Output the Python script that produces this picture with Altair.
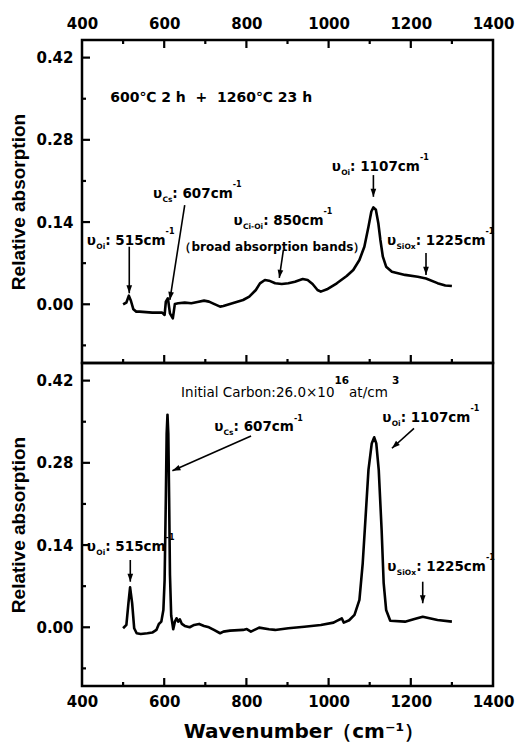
import math
import altair as alt
import pandas as pd

# ---------------- data ----------------
top_wn = [500, 508, 514, 519, 525, 532, 540, 571, 595, 601, 604, 609, 614, 621, 626, 634,
          650, 666, 681, 697, 709, 721, 736, 744, 760, 792, 807, 823, 833, 845, 855, 870,
          886, 902, 918, 937, 949, 961, 973, 981, 996, 1020, 1044, 1060, 1075, 1087, 1097,
          1104, 1109, 1115, 1121, 1126, 1132, 1140, 1154, 1186, 1217, 1237, 1265, 1284, 1300]
top_abs = [0.000, 0.003, 0.0147, 0.006, -0.0086, -0.0125, -0.0125, -0.0142, -0.0142, -0.0182,
           0.0045, 0.0102, -0.0154, -0.0239, 0.0006, 0.0017, 0.0028, 0.0017, 0.0040, 0.0062,
           0.0045, 0.0006, -0.0040, -0.0029, 0.0006, 0.0073, 0.0130, 0.0243, 0.0357, 0.0414,
           0.0402, 0.0357, 0.0346, 0.0357, 0.0385, 0.0431, 0.0414, 0.0346, 0.0243, 0.0215,
           0.0255, 0.0357, 0.0482, 0.0584, 0.0754, 0.098, 0.132, 0.158, 0.165, 0.161, 0.138,
           0.1095, 0.081, 0.064, 0.0555, 0.050, 0.047, 0.044, 0.036, 0.032, 0.031]

bot_wn = [500, 508, 513, 517, 522, 527, 533, 543, 559, 571, 581, 587, 593, 598, 601, 604,
          606, 608, 610, 612, 614, 617, 622, 626, 630, 634, 638, 643, 650, 662, 673, 685,
          697, 709, 721, 736, 744, 760, 792, 801, 811, 831, 855, 870, 902, 941, 981, 1012,
          1020, 1028, 1032, 1037, 1050, 1063, 1075, 1083, 1090, 1097, 1105, 1111, 1116,
          1122, 1129, 1134, 1140, 1150, 1186, 1209, 1229, 1265, 1300]
bot_abs = [-0.0017, 0.004, 0.041, 0.068, 0.041, -0.0017, -0.0102, -0.0114, -0.0102, -0.009,
           -0.0045, 0.0057, 0.0096, 0.0295, 0.08, 0.22, 0.33, 0.362, 0.33, 0.22, 0.09, 0.02,
           -0.0034, 0.0096, 0.0153, 0.0096, 0.0136, 0.0057, 0.0023, 0.0, 0.004, 0.0057,
           0.0023, 0.0, -0.0045, -0.0102, -0.0074, -0.0057, -0.0045, -0.003, -0.0074,
           -0.0006, -0.0034, -0.0045, -0.0017, 0.001, 0.004, 0.0079, 0.011, 0.0136, 0.0153,
           0.008, 0.012, 0.021, 0.0465, 0.109, 0.188, 0.268, 0.313, 0.3235, 0.313, 0.268,
           0.166, 0.075, 0.0295, 0.011, 0.0096, 0.014, 0.018, 0.0125, 0.0096]

x_major = [400, 600, 800, 1000, 1200, 1400]
x_minor = [500, 700, 900, 1100, 1300]
y_major = [0.00, 0.14, 0.28, 0.42]
y_minor = [-0.07, 0.07, 0.21, 0.35]
x_domain = [400, 1400]
y_domain = [-0.10, 0.45]

y_title = "Relative absorption"
x_title = "Wavenumber（cm⁻¹）"

# annotations: anchor (wavenumber, absorption) and text segments
top_labels = [
    (468.6, 0.3445, [("600℃ 2 h \u00a0+\u00a0 1260℃ 23 h", "note")]),
    (411.8, 0.101, [("υ", "main"), ("Oi", "sub"), (": 515cm", "main"), ("-1", "sup")]),
    (572.6, 0.181, [("υ", "main"), ("Cs", "sub"), (": 607cm", "main"), ("-1", "sup")]),
    (768.8, 0.135, [("υ", "main"), ("Ci-Oi", "sub"), (": 850cm", "main"), ("-1", "sup")]),
    (863.4, 0.0908, [("（broad absorption bands）", "band")]),
    (1007.6, 0.227, [("υ", "main"), ("Oi", "sub"), (": 1107cm", "main"), ("-1", "sup")]),
    (1142.0, 0.101, [("υ", "main"), ("SiOx", "sub"), (": 1225cm", "main"), ("-1", "sup")]),
]
top_arrows = [(515, 0.098, 515, 0.0187), (649.9, 0.169, 613.8, 0.0073),
              (890, 0.0925, 880, 0.0448), (1109, 0.220, 1109, 0.183),
              (1237, 0.0874, 1237, 0.050)]

bot_labels = [
    (641.1, 0.392, [("Initial Carbon:26.0×10", "plain"), ("16", "psup"),
                    (" at/cm", "plain"), ("3", "psup")]),
    (721.5, 0.334, [("υ", "main"), ("Cs", "sub"), (": 607cm", "main"), ("-1", "sup")]),
    (1130.5, 0.3496, [("υ", "main"), ("Oi", "sub"), (": 1107cm", "main"), ("-1", "sup")]),
    (411.8, 0.130, [("υ", "main"), ("Oi", "sub"), (": 515cm", "main"), ("-1", "sup")]),
    (1143.0, 0.0959, [("υ", "main"), ("SiOx", "sub"), (": 1225cm", "main"), ("-1", "sup")]),
]
bot_arrows = [(811.3, 0.3257, 619.9, 0.2664), (1207.8, 0.3388, 1154.1, 0.3048),
              (517.5, 0.1146, 517.5, 0.0776), (1229, 0.0776, 1229, 0.0409)]

# ---------------- styling ----------------
W, H = 411, 323
PX_X = W / (x_domain[1] - x_domain[0])
PX_Y = H / (y_domain[1] - y_domain[0])

KINDS = {
    "main": dict(fontSize=13.5, fontWeight="bold", dy=0, align="left"),
    "sub": dict(fontSize=7.5, fontWeight="bold", dy=4, align="left"),
    "sup": dict(fontSize=8, fontWeight="bold", dy=-10.5, align="left"),
    "plain": dict(fontSize=13.5, fontWeight="normal", dy=0, align="left"),
    "psup": dict(fontSize=10.5, fontWeight="bold", dy=-13, align="left"),
    "note": dict(fontSize=14, fontWeight="bold", dy=0, align="left"),
    "band": dict(fontSize=12, fontWeight="bold", dy=0, align="center"),
}
BOLD_W = {" ": .348, ":": .400, ".": .380, "×": .838, "I": .372, "n": .712, "i": .343,
          "t": .478, "a": .675, "l": .343, "C": .734, "r": .493, "b": .716, "o": .687,
          "/": .365, "c": .593, "m": 1.042, "O": .850, "s": .595, "S": .721, "x": .663,
          "-": .415, "υ": .70, "e": .678, "h": .712}
NORM_W = {" ": .318, ":": .337, ".": .318, "×": .838, "I": .295, "n": .634, "i": .278,
          "t": .392, "a": .613, "l": .278, "C": .698, "r": .411, "b": .635, "o": .612,
          "/": .337, "c": .550, "m": .974}


def text_width(s, kind):
    p = KINDS[kind]
    table = BOLD_W if p["fontWeight"] == "bold" else NORM_W
    dig = .696 if p["fontWeight"] == "bold" else .636
    return sum((dig if ch.isdigit() else table.get(ch, .68)) for ch in s) * p["fontSize"]


def label_rows(labels):
    rows = []
    for x0, y0, segs in labels:
        off = 0.0
        for txt, kind in segs:
            rows.append({"x": x0 + off / PX_X, "y": y0, "t": txt, "kind": kind})
            off += text_width(txt, kind)
    return pd.DataFrame(rows)


def arrow_frames(arrows):
    lines = pd.DataFrame([{"x": a, "y": b, "x2": c, "y2": d} for a, b, c, d in arrows])
    heads = []
    for a, b, c, d in arrows:
        dxp = (c - a) * PX_X
        dyp = -(d - b) * PX_Y
        ang = math.degrees(math.atan2(dxp, -dyp)) % 360
        heads.append({"x": c, "y": d, "ang": ang})
    return lines, pd.DataFrame(heads)


xs = alt.Scale(domain=x_domain, nice=False, zero=False)
ys = alt.Scale(domain=y_domain, nice=False, zero=False)
HEAD = "M0,0 L0.6,1.7 L-0.6,1.7 Z"


def panel(wn, ab, labels, arrows, orient, xtitle):
    if xtitle is None:
        xaxis = alt.Axis(orient=orient, values=x_major, format="d", title=None)
    else:
        xaxis = alt.Axis(orient=orient, values=x_major, format="d", title=xtitle,
                         titleX=W / 2 + 16)
    yaxis = alt.Axis(values=y_major, format=".2f", title=y_title)
    X = alt.X("x:Q", scale=xs, axis=xaxis)
    Y = alt.Y("y:Q", scale=ys, axis=yaxis)

    spec = pd.DataFrame({"x": wn, "y": ab})
    layers = [alt.Chart(spec).mark_line(color="black", strokeWidth=2.6,
                                        strokeJoin="round").encode(x=X, y=Y)]

    # inward ticks
    ymaj = pd.DataFrame({"y": y_major})
    ymin = pd.DataFrame({"y": y_minor})
    xmaj = pd.DataFrame({"x": x_major[1:-1]})
    xmin = pd.DataFrame({"x": x_minor})
    layers.append(alt.Chart(ymaj).mark_rule(color="black", strokeWidth=2.2).encode(
        y=Y, x=alt.value(0), x2=alt.value(8)))
    layers.append(alt.Chart(ymin).mark_rule(color="black", strokeWidth=2.2).encode(
        y=Y, x=alt.value(0), x2=alt.value(4)))
    edges = [H] if orient == "bottom" else [0, H]
    for e in edges:
        sgn = 1 if e == 0 else -1
        layers.append(alt.Chart(xmaj).mark_rule(color="black", strokeWidth=2.2).encode(
            x=X, y=alt.value(e), y2=alt.value(e + sgn * 8)))
        layers.append(alt.Chart(xmin).mark_rule(color="black", strokeWidth=2.2).encode(
            x=X, y=alt.value(e), y2=alt.value(e + sgn * 4)))

    # arrows
    lines, heads = arrow_frames(arrows)
    layers.append(alt.Chart(lines).mark_rule(color="black", strokeWidth=1.6).encode(
        x=X, y=Y, x2="x2:Q", y2="y2:Q"))
    layers.append(alt.Chart(heads).mark_point(shape=HEAD, filled=True, size=90,
                                              color="black", opacity=1).encode(
        x=X, y=Y, angle=alt.Angle("ang:Q", scale=None)))

    # annotation text
    df = label_rows(labels)
    for kind, p in KINDS.items():
        sub = df[df["kind"] == kind]
        if len(sub) == 0:
            continue
        layers.append(alt.Chart(sub).mark_text(
            font="DejaVu Sans", fontSize=p["fontSize"], fontWeight=p["fontWeight"],
            dy=p["dy"], align=p["align"], baseline="alphabetic", color="black").encode(
            x=X, y=Y, text="t:N"))

    return alt.layer(*layers).properties(width=W, height=H)


top = panel(top_wn, top_abs, top_labels, top_arrows, "top", None)
bottom = panel(bot_wn, bot_abs, bot_labels, bot_arrows, "bottom", x_title)

chart = (
    alt.vconcat(top, bottom, spacing=0, bounds="flush")
    .properties(padding={"left": 0, "top": 6, "right": 0, "bottom": 0}, background="white")
    .configure_view(stroke="black", strokeWidth=2.5)
    .configure_axis(grid=False, domain=False, ticks=False, labelFont="DejaVu Sans",
                    labelFontWeight="bold", labelFontSize=15, labelColor="black",
                    titleColor="black", labelFlush=False)
    .configure_axisLeft(labelPadding=9, titleFont="Liberation Sans", titleFontWeight="bold",
                        titleFontSize=19, titlePadding=7)
    .configure_axisTop(labelPadding=9)
    .configure_axisBottom(labelPadding=8, titleFont="DejaVu Sans", titleFontWeight="bold",
                          titleFontSize=20, titlePadding=12)
)

chart.save("out.html", embed_options={"renderer": "svg", "actions": False})
